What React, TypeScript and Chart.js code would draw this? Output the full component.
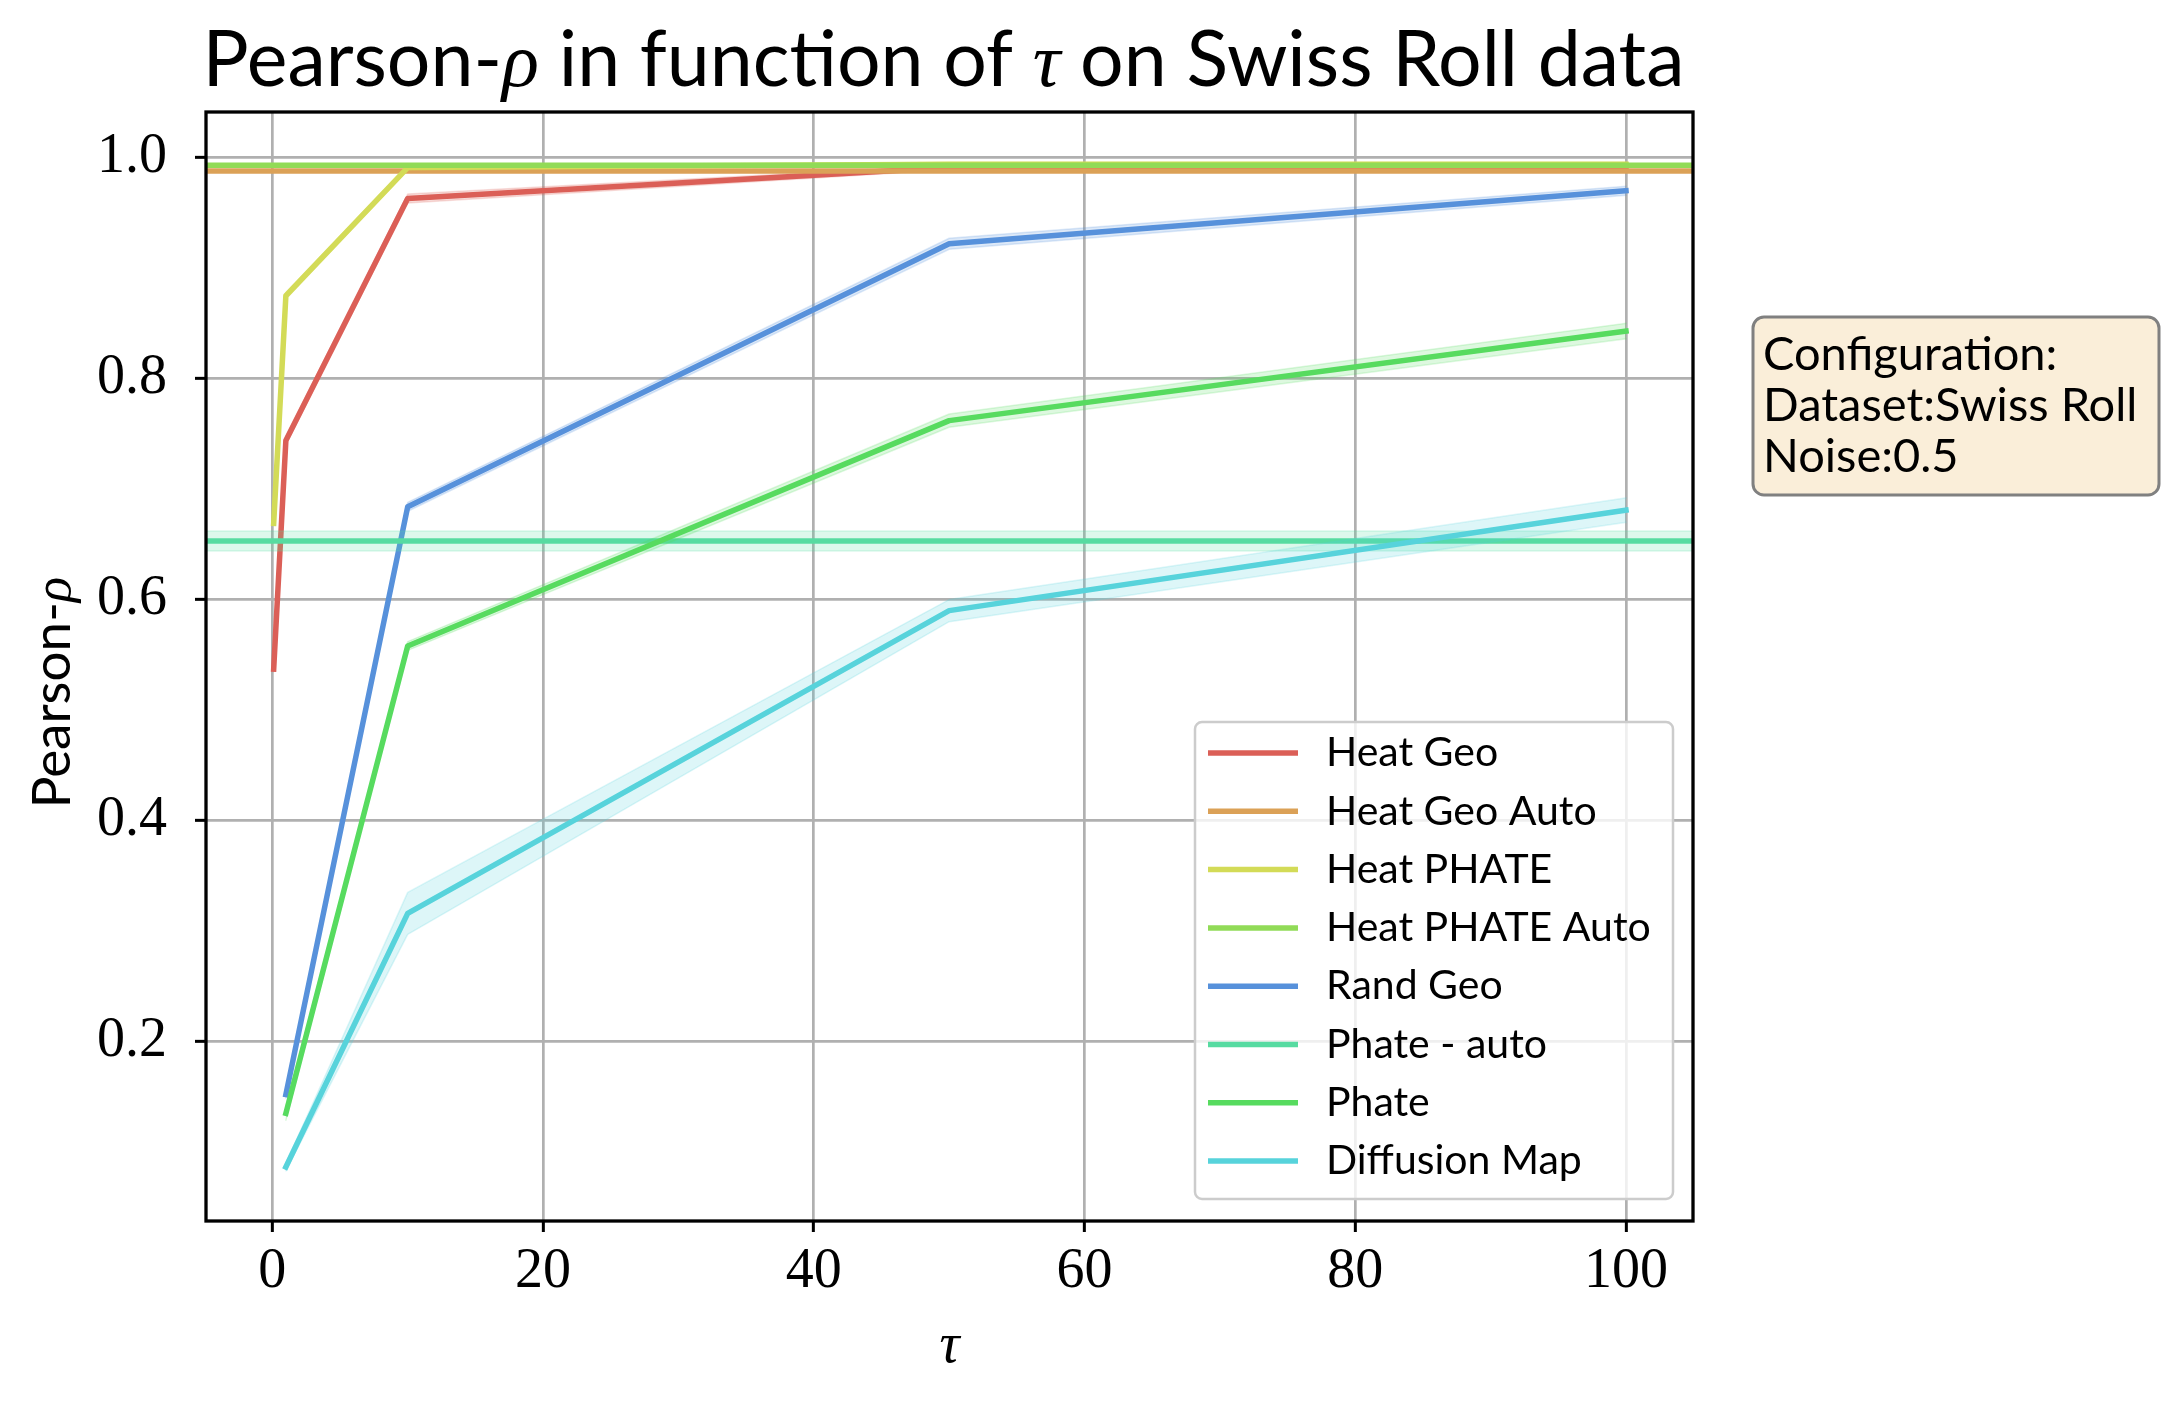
import { useEffect, useRef } from "react";
import { Chart, registerables } from "chart.js";

Chart.register(...registerables);

// tau values and axis ticks
const tau = [0.1, 1, 10, 50, 100];
const xTicks = [0, 20, 40, 60, 80, 100];
const yTicks = [0.2, 0.4, 0.6, 0.8, 1.0];

const methodNames = [
  "Heat Geo",
  "Heat Geo Auto",
  "Heat PHATE",
  "Heat PHATE Auto",
  "Rand Geo",
  "Phate - auto",
  "Phate",
  "Diffusion Map",
];
const methodColors = [
  "#db5f57",
  "#dba157",
  "#d3db57",
  "#91db57",
  "#5791db",
  "#57dba1",
  "#57db5f",
  "#57d3db",
];

// mean / std per tau (null = not run at that tau)
const heatGeoMean = [0.537, 0.744, 0.963, 0.991, 0.991];
const heatGeoStd = [0.002, 0.004, 0.004, 0.002, 0.002];
const heatPhateMean = [0.669, 0.875, 0.991, 0.994, 0.994];
const heatPhateStd = [0.002, 0.003, 0.002, 0.0015, 0.0015];
const randGeoMean = [null, 0.152, 0.684, 0.922, 0.97];
const randGeoStd = [null, 0.003, 0.004, 0.005, 0.004];
const phateMean = [null, 0.135, 0.558, 0.762, 0.843];
const phateStd = [null, 0.006, 0.004, 0.006, 0.007];
const diffMapMean = [null, 0.0865, 0.316, 0.59, 0.681];
const diffMapStd = [null, 0.0033, 0.019, 0.01, 0.011];

// methods that do not depend on tau
const heatGeoAuto = 0.988;
const heatPhateAuto = 0.993;
const phateAutoMean = 0.653;
const phateAutoStd = 0.009;

const configLines = ["Configuration:", "Dataset:Swiss Roll", "Noise:0.5"];

// axis limits (matplotlib auto margins)
const X_MIN = -4.9;
const X_MAX = 104.95;
const Y_MIN = 0.0376;
const Y_MAX = 1.0413;

const SANS = "Lato";
const SERIF = "'Liberation Serif'";

function rgba(hex: string, a: number) {
  const n = parseInt(hex.slice(1), 16);
  return `rgba(${(n >> 16) & 255}, ${(n >> 8) & 255}, ${n & 255}, ${a})`;
}

function pts(xs: number[], ys: (number | null)[]) {
  return xs
    .map((x, i) => ({ x, y: ys[i] }))
    .filter((p) => p.y !== null) as { x: number; y: number }[];
}

// line + shaded band, like plt.plot + fill_between
function withBand(
  color: string,
  xs: number[],
  mean: (number | null)[],
  std: (number | null)[]
) {
  const upper = mean.map((m, i) => (m === null ? null : m + (std[i] ?? 0)));
  const lower = mean.map((m, i) => (m === null ? null : m - (std[i] ?? 0)));
  return [
    {
      data: pts(xs, upper),
      borderColor: rgba(color, 0.2),
      borderWidth: 1.5,
      fill: false,
    },
    {
      data: pts(xs, lower),
      borderColor: rgba(color, 0.2),
      borderWidth: 1.5,
      backgroundColor: rgba(color, 0.2),
      fill: "-1",
    },
    {
      data: pts(xs, mean),
      borderColor: color,
      borderWidth: 5.5,
      fill: false,
    },
  ];
}

function flatLine(color: string, v: number) {
  return {
    data: [
      { x: X_MIN, y: v },
      { x: X_MAX, y: v },
    ],
    borderColor: color,
    borderWidth: 5.5,
    fill: false,
  };
}

type Part = { text: string; font: string };

function drawParts(
  ctx: CanvasRenderingContext2D,
  parts: Part[],
  x: number,
  y: number
) {
  const widths = parts.map((p) => {
    ctx.font = p.font;
    return ctx.measureText(p.text).width;
  });
  let cx = x - widths.reduce((a, b) => a + b, 0) / 2;
  parts.forEach((p, i) => {
    ctx.font = p.font;
    ctx.fillText(p.text, cx, y);
    cx += widths[i];
  });
}

const decorPlugin = {
  id: "decor",
  afterDatasetsDraw(chart: Chart) {
    const { ctx, chartArea: a } = chart;
    ctx.save();
    ctx.strokeStyle = "#000";
    ctx.lineWidth = 3.3;
    ctx.strokeRect(a.left, a.top, a.right - a.left, a.bottom - a.top);
    ctx.restore();
  },
  afterDraw(chart: Chart) {
    const { ctx, chartArea: a } = chart;
    const cx = (a.left + a.right) / 2;
    const cy = (a.top + a.bottom) / 2;
    ctx.save();
    ctx.fillStyle = "#000";
    ctx.textBaseline = "alphabetic";

    // title
    drawParts(
      ctx,
      [
        { text: "Pearson-", font: `77px ${SANS}` },
        { text: "ρ", font: `italic 77px ${SERIF}` },
        { text: " in function of ", font: `77px ${SANS}` },
        { text: "τ", font: `italic 77px ${SERIF}` },
        { text: " on Swiss Roll data", font: `77px ${SANS}` },
      ],
      cx - 6,
      86
    );

    // x label
    drawParts(ctx, [{ text: "τ", font: `italic 56px ${SERIF}` }], cx, 1362);

    // y label
    ctx.save();
    ctx.translate(70, cy + 26);
    ctx.rotate(-Math.PI / 2);
    drawParts(
      ctx,
      [
        { text: "Pearson-", font: `53px ${SANS}` },
        { text: "ρ", font: `italic 53px ${SERIF}` },
      ],
      0,
      0
    );
    ctx.restore();

    // legend
    const lx = 1195;
    const ly = 722;
    ctx.beginPath();
    ctx.roundRect(lx, ly, 478, 477, 7);
    ctx.fillStyle = "rgba(255,255,255,0.8)";
    ctx.fill();
    ctx.strokeStyle = "#cccccc";
    ctx.lineWidth = 2.5;
    ctx.stroke();
    ctx.textBaseline = "middle";
    ctx.font = `41px ${SANS}`;
    methodNames.forEach((name, i) => {
      const y = 753 + i * 58.3;
      ctx.strokeStyle = methodColors[i];
      ctx.lineWidth = 5.5;
      ctx.beginPath();
      ctx.moveTo(lx + 13, y);
      ctx.lineTo(lx + 103, y);
      ctx.stroke();
      ctx.fillStyle = "#000";
      ctx.fillText(name, lx + 131, y);
    });

    // configuration box
    ctx.beginPath();
    ctx.roundRect(1753, 317, 406, 178, 11);
    ctx.fillStyle = "rgba(245,222,179,0.5)";
    ctx.fill();
    ctx.strokeStyle = "#808080";
    ctx.lineWidth = 3;
    ctx.stroke();
    ctx.fillStyle = "#000";
    ctx.textBaseline = "alphabetic";
    ctx.font = `47px ${SANS}`;
    configLines.forEach((t, i) => ctx.fillText(t, 1763, 370 + i * 51));

    ctx.restore();
  },
};

export default function App() {
  const canvasRef = useRef<HTMLCanvasElement>(null);
  const chartRef = useRef<Chart | null>(null);

  useEffect(() => {
    if (!canvasRef.current) return;
    const datasets = [
      ...withBand(methodColors[0], tau, heatGeoMean, heatGeoStd),
      flatLine(methodColors[1], heatGeoAuto),
      ...withBand(methodColors[2], tau, heatPhateMean, heatPhateStd),
      flatLine(methodColors[3], heatPhateAuto),
      ...withBand(methodColors[4], tau, randGeoMean, randGeoStd),
      ...withBand(
        methodColors[5],
        [X_MIN, X_MAX],
        [phateAutoMean, phateAutoMean],
        [phateAutoStd, phateAutoStd]
      ),
      ...withBand(methodColors[6], tau, phateMean, phateStd),
      ...withBand(methodColors[7], tau, diffMapMean, diffMapStd),
    ].map((d, i) => ({
      ...d,
      order: -i, // later series on top, like matplotlib
      pointRadius: 0,
      tension: 0,
      borderCapStyle: "square" as const,
      borderJoinStyle: "round" as const,
    }));

    chartRef.current?.destroy();
    chartRef.current = new Chart(canvasRef.current, {
      type: "line",
      data: { datasets },
      options: {
        animation: false,
        responsive: true,
        maintainAspectRatio: false,
        layout: { padding: { left: 56, right: 480, top: 112, bottom: 64 } },
        plugins: {
          legend: { display: false },
          tooltip: { enabled: false },
          title: { display: false },
        },
        scales: {
          x: {
            type: "linear",
            min: X_MIN,
            max: X_MAX,
            afterBuildTicks: (s) => {
              s.ticks = xTicks.map((v) => ({ value: v }));
            },
            afterFit: (s) => {
              s.height = 120;
            },
            ticks: {
              color: "#000",
              font: { family: SERIF, size: 56 },
              padding: 7,
              maxRotation: 0,
              callback: (v) => String(v),
            },
            grid: {
              color: "#b0b0b0",
              lineWidth: 2.7,
              tickColor: "#000",
              tickLength: 11,
              tickWidth: 3,
            },
            border: { display: false },
          },
          y: {
            type: "linear",
            min: Y_MIN,
            max: Y_MAX,
            afterBuildTicks: (s) => {
              s.ticks = yTicks.map((v) => ({ value: v }));
            },
            afterFit: (s) => {
              s.width = 150;
            },
            ticks: {
              color: "#000",
              font: { family: SERIF, size: 56 },
              padding: 28,
              callback: (v) => Number(v).toFixed(1),
            },
            grid: {
              color: "#b0b0b0",
              lineWidth: 2.7,
              tickColor: "#000",
              tickLength: 11,
              tickWidth: 3,
            },
            border: { display: false },
          },
        },
      },
      plugins: [decorPlugin],
    });

    return () => {
      chartRef.current?.destroy();
      chartRef.current = null;
    };
  }, []);

  return (
    <div
      style={{
        position: "absolute",
        left: 0,
        top: 0,
        width: 2173,
        height: 1405,
        background: "#fff",
      }}
    >
      <canvas ref={canvasRef}></canvas>
    </div>
  );
}
